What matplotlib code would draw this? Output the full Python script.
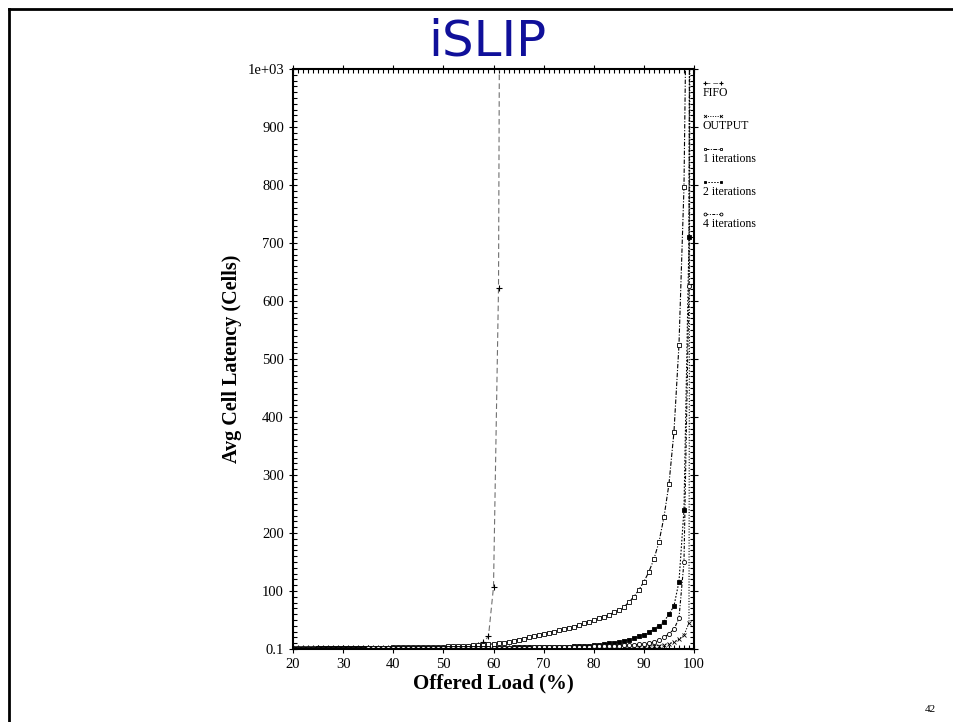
import matplotlib
matplotlib.use("Agg")
import matplotlib.pyplot as plt
from matplotlib.lines import Line2D

# Offered load (%) and latency (cells)
fifo_x = [20, 25, 30, 35, 40, 45, 50, 52, 54, 55, 56, 57, 58, 59, 60, 61, 62]
fifo_y = [1, 1, 1, 1.2, 1.5, 2, 2.5, 3, 3.5, 4, 5, 7, 12, 22, 107, 622, 3000]

out_x = [20, 30, 40, 50, 60, 70, 75, 80, 82, 84, 85, 86, 87, 88, 89, 90,
         91, 92, 93, 94, 95, 96, 97, 98, 99, 100]
out_y = [0.5, 0.6, 0.8, 1, 1.2, 1.5, 1.8, 2, 2.2, 2.5, 2.8, 3, 3.2, 3.5, 4, 4.5,
         5, 5.5, 6, 7, 9, 12, 17, 24, 45, 6000]

it1_x = list(range(20, 100))
it1_y = [1, 1, 1, 1, 1, 1.2, 1.2, 1.3, 1.4, 1.5,
         1.6, 1.7, 1.8, 1.9, 2, 2.1, 2.2, 2.3, 2.4, 2.5,
         2.6, 2.7, 2.8, 3, 3.1, 3.3, 3.5, 3.7, 3.9, 4.1,
         4.3, 4.6, 4.9, 5.2, 5.5, 6, 6.5, 7, 7.5, 8,
         9, 10, 11, 12, 14, 16, 18, 20, 22, 24,
         26, 28, 30, 32, 34, 36, 38, 41, 44, 47,
         50, 53, 56, 59, 63, 67, 72, 81, 90, 102,
         116, 133, 155, 184, 227, 284, 374, 524, 796, 1500]

it2_x = list(range(20, 101))
it2_y = [0.8, 0.8, 0.8, 0.8, 0.8, 0.9, 0.9, 0.9, 0.9, 1,
         1, 1, 1, 1, 1, 1.1, 1.1, 1.1, 1.1, 1.2,
         1.2, 1.2, 1.3, 1.3, 1.3, 1.4, 1.4, 1.4, 1.5, 1.5,
         1.6, 1.6, 1.7, 1.7, 1.8, 1.8, 1.9, 2, 2, 2.1,
         2.2, 2.3, 2.4, 2.5, 2.6, 2.7, 2.8, 2.9, 3, 3.1,
         3.2, 3.4, 3.6, 3.8, 4, 4.3, 4.6, 5, 5.5, 6,
         6.8, 7.5, 8.5, 9.5, 11, 12, 14, 16, 19, 22,
         25, 29, 34, 40, 47, 60, 74, 116, 240, 710, 4000]

it4_x = list(range(20, 101))
it4_y = [0.6, 0.6, 0.6, 0.6, 0.6, 0.7, 0.7, 0.7, 0.7, 0.7,
         0.8, 0.8, 0.8, 0.8, 0.8, 0.9, 0.9, 0.9, 0.9, 0.9,
         1, 1, 1, 1, 1, 1.1, 1.1, 1.1, 1.2, 1.2,
         1.2, 1.3, 1.3, 1.4, 1.4, 1.5, 1.5, 1.6, 1.6, 1.7,
         1.8, 1.9, 2, 2.1, 2.2, 2.3, 2.4, 2.5, 2.6, 2.7,
         2.8, 2.9, 3, 3.1, 3.3, 3.5, 3.7, 3.9, 4.1, 4.3,
         4.5, 4.8, 5.1, 5.4, 5.7, 6, 6.5, 7, 7.5, 8,
         9, 10, 12, 15, 20, 26, 34, 53, 150, 626, 5000]

legend_labels = ["FIFO", "OUTPUT", "1 iterations", "2 iterations", "4 iterations"]
x_ticks = [20, 30, 40, 50, 60, 70, 80, 90, 100]
y_ticks = [0.1, 100, 200, 300, 400, 500, 600, 700, 800, 900, 1000]
y_tick_labels = ["0.1", "100", "200", "300", "400", "500", "600", "700", "800", "900", "1e+03"]

plt.rcParams["font.family"] = ["Liberation Serif", "DejaVu Serif"]

fig = plt.figure(figsize=(9.54, 7.22), dpi=100)
ax = fig.add_axes([293 / 954, 1 - 649 / 722, 401 / 954, 580 / 722])

# series styles
styles = [
    dict(color="#707070", linestyle=(0, (5, 3)), marker="+", mec="black", ms=5, mew=0.8),
    dict(color="black", linestyle=(0, (1, 1.5)), marker="x", mec="black", ms=3, mew=0.6),
    dict(color="black", linestyle=(0, (4, 1.5, 1, 1.5)), marker="s", mfc="white", mec="black", ms=3, mew=0.6),
    dict(color="black", linestyle=(0, (1.5, 1.5)), marker="s", mfc="black", mec="black", ms=3, mew=0.6),
    dict(color="black", linestyle=(0, (3, 1.5, 1, 1.5)), marker="o", mfc="white", mec="black", ms=3, mew=0.6),
]
series = [(fifo_x, fifo_y), (out_x, out_y), (it1_x, it1_y), (it2_x, it2_y), (it4_x, it4_y)]
for (xs, ys), st in zip(series, styles):
    ax.plot(xs, ys, lw=0.8, **st)

ax.set_xlim(20, 100)
ax.set_ylim(0.1, 1000)
ax.set_xticks(x_ticks)
ax.set_xticks(range(20, 101), minor=True)
ax.set_yticks(y_ticks)
ax.set_yticklabels(y_tick_labels)
ax.set_yticks(range(0, 1001, 10), minor=True)
ax.tick_params(which="both", top=True, right=True, labelsize=10.5, width=0.8)
ax.tick_params(which="major", direction="inout", length=6)
ax.tick_params(which="minor", direction="in", length=3)
for sp in ax.spines.values():
    sp.set_linewidth(1.5)

ax.set_xlabel("Offered Load (%)", fontsize=15, fontweight="bold", labelpad=2)
ax.set_ylabel("Avg Cell Latency (Cells)", fontsize=14.5, fontweight="bold", labelpad=4)

# legend: sample line above, label below
leg_top = [83, 116, 149, 182, 214]
for lab, st, yp in zip(legend_labels, styles, leg_top):
    fy = 1 - yp / 722
    fig.add_artist(Line2D([705 / 954, 721 / 954], [fy, fy], transform=fig.transFigure,
                          lw=0.7, markevery=[0, 1], **{**st, "ms": st["ms"] * 0.7}))
    fig.text(703 / 954, fy - 0.006, lab, fontsize=8.5, va="top", ha="left")

# slide frame and title
fig.add_artist(Line2D([9 / 954, 1], [1 - 9 / 722, 1 - 9 / 722], transform=fig.transFigure, color="black", lw=2))
fig.add_artist(Line2D([9 / 954, 9 / 954], [0, 1 - 9 / 722], transform=fig.transFigure, color="black", lw=2))
fig.text(487 / 954, 1 - 55 / 722, "iSLIP", fontsize=36, color="#10109a", ha="center", va="baseline",
         family="DejaVu Sans")
fig.text(930 / 954, 1 - 705 / 722, "42", fontsize=8, ha="center", va="top")

fig.savefig("out.png", dpi=100)
